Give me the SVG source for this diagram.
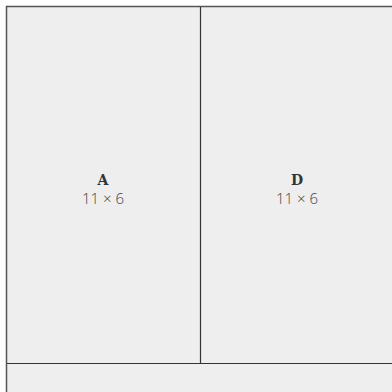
<svg xmlns="http://www.w3.org/2000/svg" width="392" height="392" viewBox="0 0 392 392">
<style>
.cell{fill:#eeeeee;stroke:#555555;stroke-width:1.5}
.div{stroke:#333333;stroke-width:1.2;fill:none}
.name{font-family:"DejaVu Serif",serif;font-weight:bold;font-size:14px;fill:#333;text-anchor:middle}
.dim{font-family:"Open Sans",sans-serif;font-weight:300;font-size:15px;fill:#444;text-anchor:middle}
</style>
<rect x="0" y="0" width="392" height="392" fill="#ffffff"/>
<g id="frame"><rect class="cell" x="6.5" y="6.5" width="390" height="390"/></g>
<g id="connectors">
<line class="div" x1="200.5" y1="7" x2="200.5" y2="363.5"/>
<line class="div" x1="7" y1="363.5" x2="392" y2="363.5"/>
</g>
<g id="A">
<text class="name" x="103" y="185">A</text>
<text class="dim" x="103" y="204">11 × 6</text>
</g>
<g id="D">
<text class="name" x="297" y="185">D</text>
<text class="dim" x="297" y="204">11 × 6</text>
</g>
</svg>
